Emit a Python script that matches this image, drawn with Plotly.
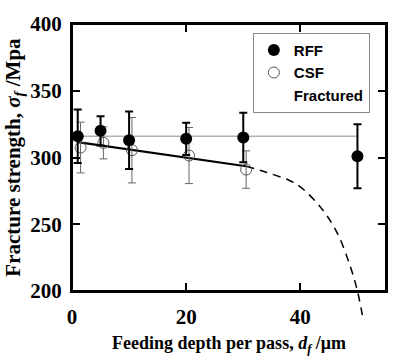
import plotly.graph_objects as go

# ---- data ----
depth_rff = [1, 5, 10, 20, 30, 50]
strength_rff = [316, 320, 313, 314, 315, 301]
err_rff = [20, 11, 21.5, 12, 18.5, 24]

depth_csf = [1.5, 5.5, 10.5, 20.5, 30.5]
strength_csf = [307.5, 311, 305.5, 301.5, 291]
err_csf = [19, 12, 24.5, 21, 14]

mean_x = [0, 50]
mean_y = [316, 316]

fit_x = [1, 30.5]
fit_y = [311.5, 293.5]

frac_x = [30.5, 34, 38, 40, 43.5, 46.4, 48.7, 50, 50.9]
frac_y = [293.5, 289, 283, 278, 263, 244, 219, 200, 181]

x_ticks = [0, 20, 40]
y_ticks = [200, 250, 300, 350, 400]
x_range = [0, 55]
y_range = [200, 400]

# ---- layout geometry ----
W, H = 400, 364
ML, MR, MT, MB = 70, 14, 14, 40
paper_h = H - MT - MB
plot_bottom_px = 290
y_dom_lo = (H - MB - plot_bottom_px) / paper_h
# a strip subplot under the frame with the same y scale, so the dashed
# curve can continue below the bottom axis as in the original
y2_lo = y_range[0] - (y_range[1] - y_range[0]) * y_dom_lo / (1 - y_dom_lo)

serif = "Liberation Serif"
sans = "Liberation Sans"

fig = go.Figure()

fig.add_trace(go.Scatter(x=mean_x, y=mean_y, mode="lines",
                         line=dict(color="#8a8a8a", width=1),
                         showlegend=False, hoverinfo="skip"))
fig.add_trace(go.Scatter(x=fit_x, y=fit_y, mode="lines",
                         line=dict(color="black", width=2.2),
                         showlegend=False, hoverinfo="skip"))

dash_style = dict(color="black", width=1.5, dash="8px,6px", shape="spline")
fig.add_trace(go.Scatter(x=frac_x, y=frac_y, mode="lines", line=dash_style,
                         showlegend=False, hoverinfo="skip"))
fig.add_trace(go.Scatter(x=frac_x, y=frac_y, mode="lines", line=dash_style,
                         xaxis="x2", yaxis="y2", showlegend=False, hoverinfo="skip"))

fig.add_trace(go.Scatter(
    x=depth_csf, y=strength_csf, mode="markers", name="CSF", legendrank=2,
    marker=dict(symbol="circle-open", size=11, color="#555555", line=dict(width=1)),
    error_y=dict(type="data", array=err_csf, color="#666666", thickness=1, width=4),
))
fig.add_trace(go.Scatter(
    x=depth_rff, y=strength_rff, mode="markers", name="RFF", legendrank=1,
    marker=dict(symbol="circle", size=12, color="black"),
    error_y=dict(type="data", array=err_rff, color="black", thickness=2, width=4),
))
fig.add_trace(go.Scatter(
    x=[None], y=[None], mode="markers", name="Fractured", legendrank=3,
    marker=dict(color="rgba(0,0,0,0)", size=1),
))

axis_common = dict(showline=True, linecolor="black", linewidth=2, mirror="ticks",
                   ticks="inside", ticklen=8, tickwidth=2, tickcolor="black",
                   showgrid=False, zeroline=False)

fig.update_layout(
    width=W, height=H,
    margin=dict(l=ML, r=MR, t=MT, b=MB),
    paper_bgcolor="white", plot_bgcolor="rgba(0,0,0,0)",
    xaxis=dict(range=x_range, tickvals=x_ticks, domain=[0, 1], anchor="y",
               tickfont=dict(family=serif, size=21, color="black", weight="bold"),
               ticklabelstandoff=6,
               title=dict(text="Feeding depth per pass, <i>d</i><sub><i>f</i></sub> /μm",
                          font=dict(family=serif, size=18, color="black", weight="bold"),
                          standoff=8),
               **axis_common),
    yaxis=dict(range=y_range, tickvals=y_ticks, domain=[y_dom_lo, 1], anchor="x",
               tickfont=dict(family=serif, size=21, color="black", weight="bold"),
               ticklabelstandoff=4,
               title=dict(text="Fracture strength, <i>σ</i><sub><i>f</i></sub> /Mpa",
                          font=dict(family=serif, size=21, color="black", weight="bold"),
                          standoff=4),
               **axis_common),
    xaxis2=dict(range=x_range, domain=[0, 1], anchor="y2", visible=False),
    yaxis2=dict(range=[y2_lo, y_range[0]], domain=[0, y_dom_lo], anchor="x2", visible=False),
    shapes=[dict(type="rect", xref="x domain", yref="y domain", x0=0, x1=1, y0=0, y1=1,
                 line=dict(color="black", width=2), fillcolor="rgba(0,0,0,0)",
                 layer="above")],
    legend=dict(x=(252 - ML) / (W - ML - MR), y=1 - (23 - MT) / paper_h,
                xanchor="left", yanchor="top",
                bordercolor="#888888", borderwidth=1, bgcolor="white",
                font=dict(family=sans, size=15, color="black", weight="bold"),
                itemwidth=30),
    showlegend=True,
)

fig.write_html("out.html", config={"displayModeBar": False},
               post_script="document.body.style.margin='0';document.body.style.padding='0';")
